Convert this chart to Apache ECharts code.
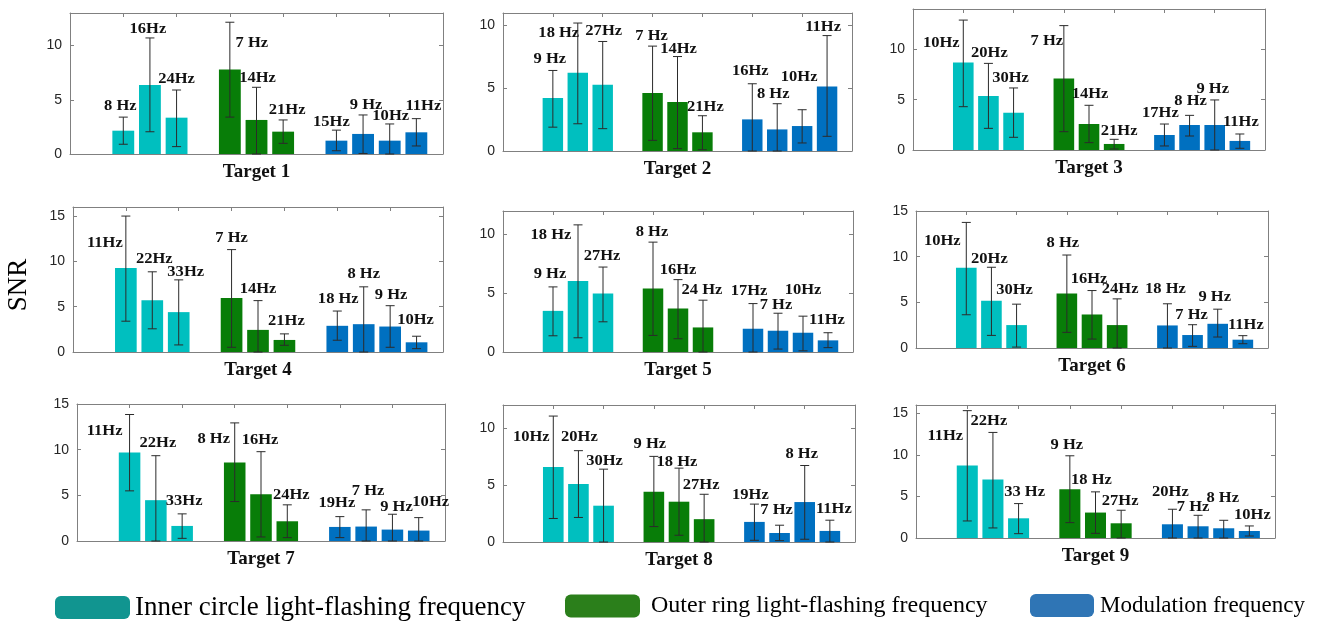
<!DOCTYPE html>
<html>
<head>
<meta charset="utf-8">
<script src="https://cdn.jsdelivr.net/npm/echarts@6/dist/echarts.min.js"></script>
<style>html,body{margin:0;padding:0;background:#fff}#main{width:1320px;height:621px}</style>
</head>
<body>
<div id="main"></div>
<script>
// 数据
var targets = ['Target 1','Target 2','Target 3','Target 4','Target 5','Target 6','Target 7','Target 8','Target 9'];
var groupNames = ['Inner circle light-flashing frequency', 'Outer ring light-flashing frequency', 'Modulation frequency'];
var xPos = [2, 3, 4, 6, 7, 8, 10, 11, 12, 13];
var groupOf = [0, 0, 0, 1, 1, 1, 2, 2, 2, 2];
var yMax = [13, 11, 14, 16, 12, 15, 15, 12, 16];
var freqLabels = [
  ['8 Hz','16Hz','24Hz','7 Hz','14Hz','21Hz','15Hz','9 Hz','10Hz','11Hz'],
  ['9 Hz','18 Hz','27Hz','7 Hz','14Hz','21Hz','16Hz','8 Hz','10Hz','11Hz'],
  ['10Hz','20Hz','30Hz','7 Hz','14Hz','21Hz','17Hz','8 Hz','9 Hz','11Hz'],
  ['11Hz','22Hz','33Hz','7 Hz','14Hz','21Hz','18 Hz','8 Hz','9 Hz','10Hz'],
  ['9 Hz','18 Hz','27Hz','8 Hz','16Hz','24 Hz','17Hz','7 Hz','10Hz','11Hz'],
  ['10Hz','20Hz','30Hz','8 Hz','16Hz','24Hz','18 Hz','7 Hz','9 Hz','11Hz'],
  ['11Hz','22Hz','33Hz','8 Hz','16Hz','24Hz','19Hz','7 Hz','9 Hz','10Hz'],
  ['10Hz','20Hz','30Hz','9 Hz','18 Hz','27Hz','19Hz','7 Hz','8 Hz','11Hz'],
  ['11Hz','22Hz','33 Hz','9 Hz','18 Hz','27Hz','20Hz','7 Hz','8 Hz','10Hz']
];
var snrMean = [
  [2.15, 6.37, 3.35, 7.8, 3.14, 2.06, 1.23, 1.85, 1.23, 2.0],
  [4.22, 6.23, 5.28, 4.62, 3.9, 1.49, 2.52, 1.72, 1.99, 5.15],
  [8.68, 5.36, 3.7, 7.09, 2.58, 0.6, 1.49, 2.48, 2.48, 0.9],
  [9.26, 5.7, 4.4, 5.96, 2.44, 1.33, 2.89, 3.07, 2.81, 1.07],
  [3.5, 6.05, 4.97, 5.4, 3.7, 2.09, 1.98, 1.81, 1.64, 0.99],
  [8.8, 5.16, 2.51, 5.96, 3.67, 2.51, 2.47, 1.42, 2.65, 0.91],
  [9.7, 4.47, 1.65, 8.6, 5.13, 2.16, 1.54, 1.58, 1.25, 1.14],
  [6.56, 5.09, 3.18, 4.41, 3.53, 2.0, 1.76, 0.79, 3.5, 0.97],
  [8.73, 7.04, 2.37, 5.87, 3.06, 1.77, 1.65, 1.41, 1.17, 0.84]
];
var errLow = [
  [0.9, 2.05, 0.68, 3.4, 0, 0.98, 0.3, 0.05, 0, 0.74],
  [1.9, 2.17, 1.78, 0.85, 0.19, 0.1, 0, 0, 0.64, 1.17],
  [4.3, 2.15, 1.26, 1.82, 0.73, 0.1, 0.4, 1.39, 0, 0.17],
  [3.4, 2.56, 0.78, 0.52, 0, 0.74, 1.3, 0, 0.52, 0.37],
  [1.38, 1.21, 2.57, 1.41, 1.13, 0, 0, 0.25, 0.1, 0.37],
  [3.64, 1.38, 0.1, 1.71, 0.98, 0, 0, 0.18, 1.2, 0.47],
  [5.49, 0, 0.29, 4.32, 0.44, 0.37, 0.37, 0, 0, 0],
  [2.06, 2.15, 0, 1.35, 0.59, 0, 0.15, 0.12, 0.24, 0],
  [2.05, 1.21, 0.52, 1.85, 0.56, 0, 0, 0, 0, 0.24]
];
var errHigh = [
  [3.4, 10.7, 5.9, 12.15, 6.15, 3.14, 2.2, 3.6, 2.77, 3.26],
  [6.42, 10.2, 8.73, 8.36, 7.53, 2.81, 5.36, 3.77, 3.29, 9.2],
  [12.9, 8.6, 6.16, 12.35, 4.44, 1.06, 2.58, 3.44, 4.97, 1.59],
  [15.0, 8.85, 7.96, 11.3, 5.67, 2.0, 4.52, 7.19, 5.11, 1.74],
  [5.54, 10.82, 7.23, 9.35, 6.16, 4.41, 4.12, 3.3, 3.05, 1.64],
  [13.75, 8.84, 4.8, 10.18, 6.29, 5.38, 4.84, 2.55, 4.25, 1.35],
  [13.85, 9.34, 2.97, 12.93, 9.78, 3.96, 2.67, 3.41, 2.93, 2.56],
  [11.03, 8.0, 6.38, 7.5, 6.47, 4.18, 3.32, 1.47, 6.7, 1.91],
  [15.32, 12.7, 4.14, 9.89, 5.55, 3.34, 3.46, 2.73, 2.13, 1.45]
];

// 布局（像素）
var gridBoxes = [
  [70, 13, 443, 154], [503, 13, 852, 151], [913, 9, 1265, 150],
  [73, 207, 443, 352], [503, 211, 853, 352], [916, 211, 1268, 348],
  [77, 404, 445, 541], [503, 405, 855, 542], [916, 405, 1275, 538]
];
// 频率标签相对误差棒顶端的偏移
var labelOffsets = [
  [[-3,-11],[-2,-9],[0,-11],[22,21],[1,-9],[4,-10],[-5,-8],[3,-10],[1,-8],[7,-12]],
  [[-3,-11],[-19,10],[1,-10],[-1,-10],[1,-7],[3,-8],[-2,-12],[-4,-9],[-3,-32],[-4,-8]],
  [[-22,23],[1,-10],[-3,-10],[-17,16],[1,-11],[5,-8],[-4,-11],[1,-14],[-2,-11],[1,-12]],
  [[-21,27],[2,-12],[7,-7],[0,-11],[0,-11],[2,-12],[1,-12],[0,-12],[1,-10],[-1,-16]],
  [[-3,-13],[-27,11],[-1,-11],[-1,-10],[0,-9],[-1,-10],[-4,-12],[-2,-8],[0,-26],[-1,-12]],
  [[-24,19],[-2,-8],[-2,-14],[-4,-12],[-3,-11],[3,-9],[-2,-14],[-1,-9],[-3,-12],[3,-10]],
  [[-25,17],[2,-12],[2,-12],[-21,16],[-1,-11],[4,-9],[-3,-13],[2,-18],[4,-7],[12,-15]],
  [[-22,21],[1,-13],[1,-8],[-4,-12],[-2,-6],[-3,-9],[-4,-9],[-3,-15],[-3,-11],[4,-11]],
  [[-22,26],[-4,-11],[6,-11],[-3,-10],[-4,-11],[-1,-9],[-2,-17],[-5,-8],[-1,-22],[3,-11]]
];
var barColors = ['#00BFBF', '#087D08', '#0070C0'];
var legendColors = ['#119590', '#2B7F1B', '#2F75B5'];
var frameColor = '#808080';
var serif = '"Liberation Serif", "Times New Roman", serif';

function makeRender(t) {
  return function (params, api) {
    var i = params.dataIndex;
    var x = api.value(0);
    var pLo = api.coord([x, api.value(1)]);
    var pHi = api.coord([x, api.value(2)]);
    var cap = 4.5;
    var ls = { stroke: '#2b2b2b', lineWidth: 1 };
    var off = labelOffsets[t][i];
    return {
      type: 'group',
      children: [
        { type: 'line', shape: { x1: pHi[0], y1: pHi[1], x2: pLo[0], y2: pLo[1] }, style: ls },
        { type: 'line', shape: { x1: pHi[0] - cap, y1: pHi[1], x2: pHi[0] + cap, y2: pHi[1] }, style: ls },
        { type: 'line', shape: { x1: pLo[0] - cap, y1: pLo[1], x2: pLo[0] + cap, y2: pLo[1] }, style: ls },
        { type: 'text', x: pHi[0] + off[0], y: pHi[1] + off[1], scaleX: 1.18,
          style: { text: freqLabels[t][i], fontFamily: serif, fontSize: 14, fontWeight: 'bold',
                   fill: '#111', align: 'center', verticalAlign: 'middle' } }
      ]
    };
  };
}

var grids = [], xAxes = [], yAxes = [], series = [];
for (var t = 0; t < 9; t++) {
  var b = gridBoxes[t];
  grids.push({ left: b[0], top: b[1], width: b[2] - b[0], height: b[3] - b[1], containLabel: false });
  var axLine = { show: true, onZero: false, lineStyle: { color: frameColor, width: 1 } };
  var axTick = { show: true, inside: true, length: 4, lineStyle: { color: frameColor } };
  xAxes.push({
    gridIndex: t, type: 'value', min: 0, max: 14, interval: 2, position: 'bottom',
    axisLine: axLine, axisTick: axTick, axisLabel: { show: false }, splitLine: { show: false },
    name: targets[t], nameLocation: 'middle', nameGap: 9,
    nameTextStyle: { fontFamily: serif, fontSize: 19, fontWeight: 'bold', color: '#111', verticalAlign: 'top' }
  });
  xAxes.push({
    gridIndex: t, type: 'value', min: 0, max: 14, interval: 2, position: 'top',
    axisLine: axLine, axisTick: axTick, axisLabel: { show: false }, splitLine: { show: false }
  });
  yAxes.push({
    gridIndex: t, type: 'value', min: 0, max: yMax[t], interval: 5, position: 'left',
    axisLine: axLine, axisTick: axTick, splitLine: { show: false },
    axisLabel: { margin: 8, fontFamily: '"Liberation Sans", Arial, sans-serif', fontSize: 14, color: '#262626',
                 formatter: function (v) { return v % 5 === 0 ? String(v) : ''; } }
  });
  yAxes.push({
    gridIndex: t, type: 'value', min: 0, max: yMax[t], interval: 5, position: 'right',
    axisLine: axLine, axisTick: axTick, axisLabel: { show: false }, splitLine: { show: false }
  });
  for (var g = 0; g < 3; g++) {
    var d = [];
    for (var i = 0; i < xPos.length; i++) {
      if (groupOf[i] === g) d.push([xPos[i], snrMean[t][i]]);
    }
    series.push({
      type: 'bar', name: groupNames[g], xAxisIndex: 2 * t, yAxisIndex: 2 * t,
      data: d, barWidth: '82%', barGap: '-100%', itemStyle: { color: barColors[g] }, z: 2
    });
  }
  var e = [];
  for (var i = 0; i < xPos.length; i++) e.push([xPos[i], errLow[t][i], errHigh[t][i]]);
  series.push({
    type: 'custom', xAxisIndex: 2 * t, yAxisIndex: 2 * t, data: e, z: 5,
    renderItem: makeRender(t)
  });
}

function legendAt(k, left, iconW, fontSize, pad) {
  return {
    left: left, top: 594, padding: 0, orient: 'horizontal', selectedMode: false,
    icon: 'roundRect', itemWidth: iconW, itemHeight: 23,
    itemStyle: { color: legendColors[k] },
    textStyle: { fontFamily: serif, fontSize: fontSize, color: '#000', padding: [0, 0, 0, pad] },
    data: [groupNames[k]]
  };
}

var myChart = echarts.init(document.getElementById('main'));
var option = {
  animation: false,
  backgroundColor: '#fff',
  grid: grids,
  xAxis: xAxes,
  yAxis: yAxes,
  legend: [legendAt(0, 55, 75, 27, 0), legendAt(1, 565, 75, 24, 6), legendAt(2, 1030, 64, 23, 1)],
  graphic: [{
    type: 'text', x: 19, y: 285, rotation: Math.PI / 2,
    style: { text: 'SNR', fontFamily: serif, fontSize: 27, fill: '#000', align: 'center', verticalAlign: 'middle' }
  }],
  series: series
};
myChart.setOption(option);
</script>
</body>
</html>
